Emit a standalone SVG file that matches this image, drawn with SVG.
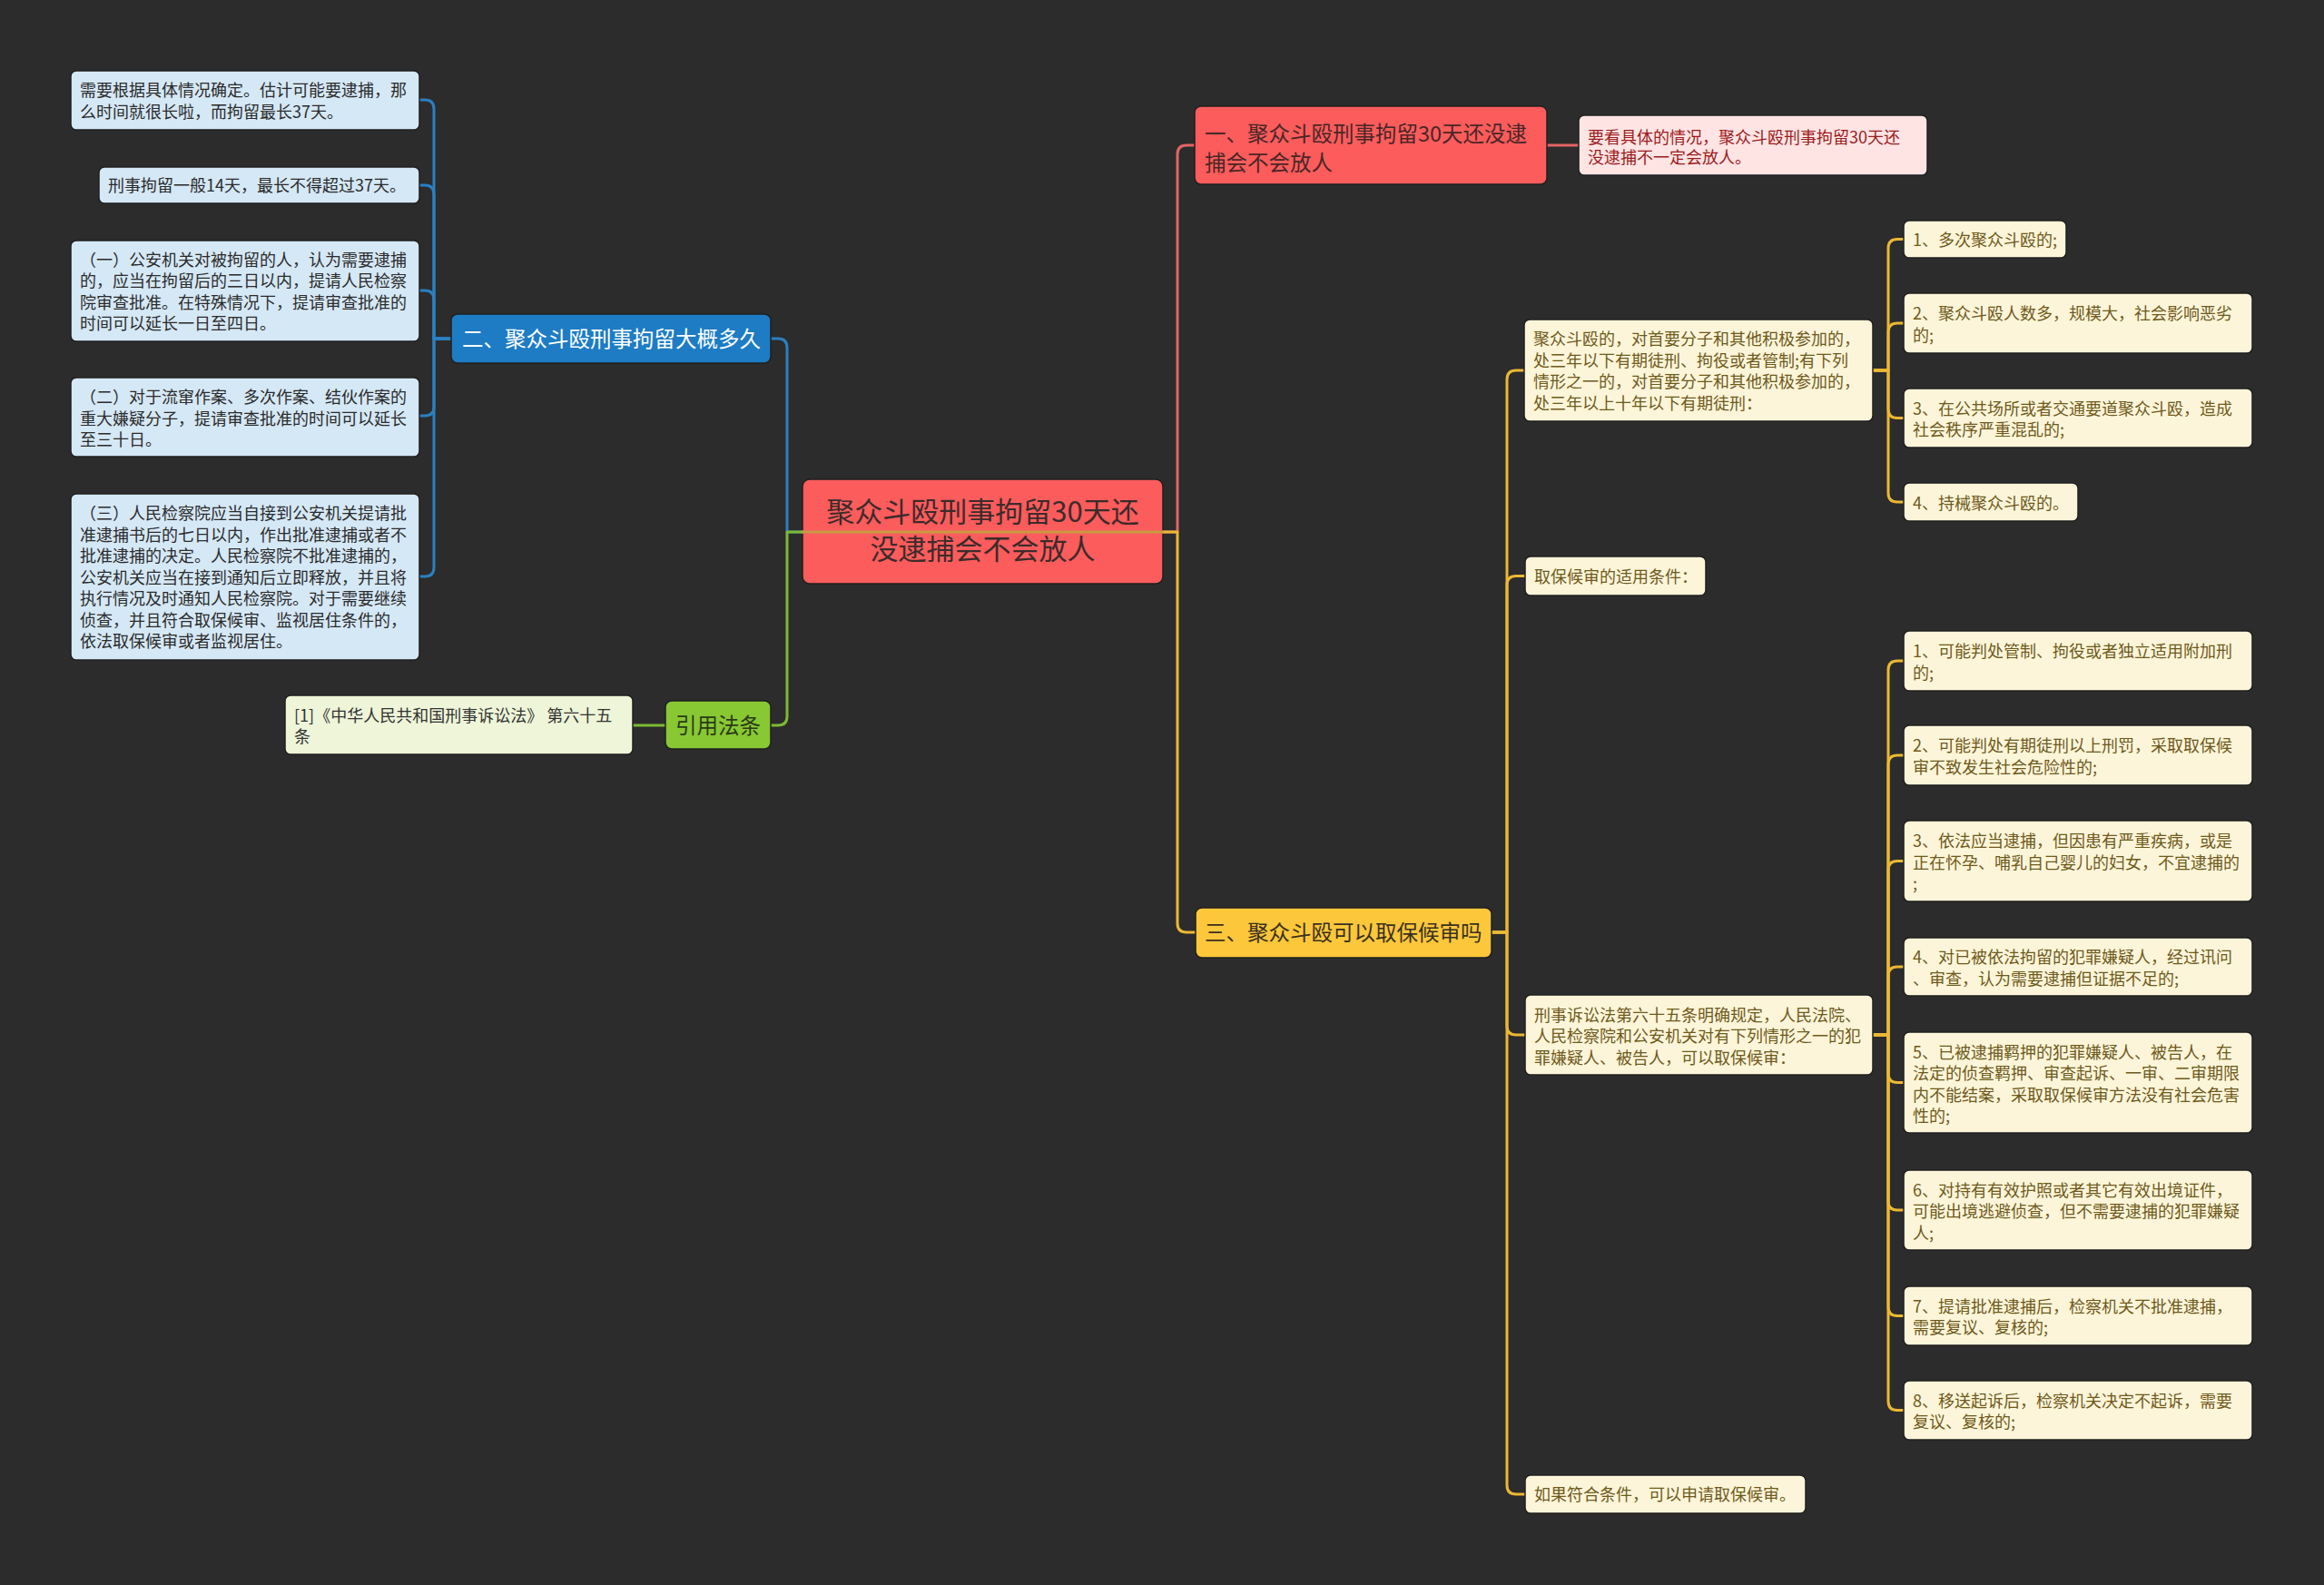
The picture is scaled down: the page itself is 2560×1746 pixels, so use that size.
<svg xmlns="http://www.w3.org/2000/svg" width="2560" height="1746" viewBox="0 0 2560 1746">
<style>
text{font-family:"Noto Sans CJK SC","Noto Sans",sans-serif;}
.t18{font-size:18px;}
.t23{font-size:23.5px;}
.lb rect{fill:#d5e8f6;stroke:#1f1f1f;stroke-width:1.5;}
.lb text{fill:#2b2b2b;}
.cr rect{fill:#fdf5d9;stroke:#1f1f1f;stroke-width:1.5;}
.cr text{fill:#6e5a1c;}
.conn path{fill:none;stroke-width:3;stroke-linecap:round;stroke-linejoin:round;}
.bl{stroke:#2a80c2;}
.gr{stroke:#7cba32;}
.rd{stroke:#e46464;}
.yl{stroke:#ebb834;}
</style>
<rect x="0" y="0" width="2560" height="1746" fill="#2c2c2c"/>

<g id="node-root">
<rect x="884" y="528" width="397" height="115" rx="8" fill="#fc5c5c" stroke="#1f1f1f" stroke-width="1.5"/>
<text x="1082.5" y="575" text-anchor="middle" font-size="31" fill="#3d2b2b">聚众斗殴刑事拘留30天还<tspan x="1082.5" dy="41">没逮捕会不会放人</tspan></text>
</g>

<g id="connectors" class="conn">
<path class="bl" d="M497,373 H478 V120 Q478,110 468,110 H462"/>
<path class="bl" d="M497,373 H478 V214 Q478,204 468,204 H462"/>
<path class="bl" d="M497,373 H478 V330 Q478,320 468,320 H462"/>
<path class="bl" d="M497,373 H478 V448 Q478,458 468,458 H462"/>
<path class="bl" d="M497,373 H478 V625 Q478,635 468,635 H462"/>
<path class="bl" d="M884,586 H867 V383 Q867,373 857,373 H849"/>
<path class="gr" d="M884,586 H867 V789 Q867,799 857,799 H849"/>
<path class="gr" d="M733,799 H697"/>
<path class="rd" d="M1281,586 H1297 V170 Q1297,160 1307,160 H1316"/>
<path class="yl" d="M1281,586 H1297 V1017 Q1297,1027 1307,1027 H1317"/>
<path d="M884,586 H1281" stroke="#c0a43e" stroke-opacity="0.85"/>
<path class="rd" d="M1704,160 H1739"/>
<path class="yl" d="M1643,1027 H1660 V418 Q1660,408 1670,408 H1679"/>
<path class="yl" d="M1643,1027 H1660 V644.5 Q1660,634.5 1670,634.5 H1680"/>
<path class="yl" d="M1643,1027 H1660 V1130 Q1660,1140 1670,1140 H1680"/>
<path class="yl" d="M1643,1027 H1660 V1636 Q1660,1646 1670,1646 H1680"/>
<path class="yl" d="M2063,408 H2080 V273.5 Q2080,263.5 2090,263.5 H2097"/>
<path class="yl" d="M2063,408 H2080 V366 Q2080,356 2090,356 H2097"/>
<path class="yl" d="M2063,408 H2080 V450.5 Q2080,460.5 2090,460.5 H2097"/>
<path class="yl" d="M2063,408 H2080 V543 Q2080,553 2090,553 H2097"/>
<path class="yl" d="M2063,1140 H2080 V738 Q2080,728 2090,728 H2097"/>
<path class="yl" d="M2063,1140 H2080 V842 Q2080,832 2090,832 H2097"/>
<path class="yl" d="M2063,1140 H2080 V958.5 Q2080,948.5 2090,948.5 H2097"/>
<path class="yl" d="M2063,1140 H2080 V1075 Q2080,1065 2090,1065 H2097"/>
<path class="yl" d="M2063,1140 H2080 V1182.5 Q2080,1192.5 2090,1192.5 H2097"/>
<path class="yl" d="M2063,1140 H2080 V1323 Q2080,1333 2090,1333 H2097"/>
<path class="yl" d="M2063,1140 H2080 V1439.5 Q2080,1449.5 2090,1449.5 H2097"/>
<path class="yl" d="M2063,1140 H2080 V1543.5 Q2080,1553.5 2090,1553.5 H2097"/>
</g>

<g id="node-two">
<rect x="497" y="346" width="352" height="54" rx="7" fill="#1d7cc4" stroke="#1f1f1f" stroke-width="1.5"/>
<text x="509" y="382" class="t23" fill="#ffffff">二、聚众斗殴刑事拘留大概多久</text>
</g>
<g id="node-two-a" class="lb">
<rect x="78" y="78" width="384" height="65" rx="6"/>
<text class="t18" x="88" y="106">需要根据具体情况确定。估计可能要逮捕，那</text>
<text class="t18" x="88" y="129.5">么时间就很长啦，而拘留最长37天。</text>
</g>
<g id="node-two-b" class="lb">
<rect x="109" y="184" width="353" height="40" rx="6"/>
<text class="t18" x="119" y="211">刑事拘留一般14天，最长不得超过37天。</text>
</g>
<g id="node-two-c" class="lb">
<rect x="78" y="265" width="384" height="111" rx="6"/>
<text class="t18" x="88" y="292.5">（一）公安机关对被拘留的人，认为需要逮捕</text>
<text class="t18" x="88" y="316">的，应当在拘留后的三日以内，提请人民检察</text>
<text class="t18" x="88" y="339.5">院审查批准。在特殊情况下，提请审查批准的</text>
<text class="t18" x="88" y="363">时间可以延长一日至四日。</text>
</g>
<g id="node-two-d" class="lb">
<rect x="78" y="416" width="384" height="87" rx="6"/>
<text class="t18" x="88" y="444">（二）对于流窜作案、多次作案、结伙作案的</text>
<text class="t18" x="88" y="467.5">重大嫌疑分子，提请审查批准的时间可以延长</text>
<text class="t18" x="88" y="491">至三十日。</text>
</g>
<g id="node-two-e" class="lb">
<rect x="78" y="544" width="384" height="183" rx="6"/>
<text class="t18" x="88" y="572">（三）人民检察院应当自接到公安机关提请批</text>
<text class="t18" x="88" y="595.5">准逮捕书后的七日以内，作出批准逮捕或者不</text>
<text class="t18" x="88" y="619">批准逮捕的决定。人民检察院不批准逮捕的，</text>
<text class="t18" x="88" y="642.5">公安机关应当在接到通知后立即释放，并且将</text>
<text class="t18" x="88" y="666">执行情况及时通知人民检察院。对于需要继续</text>
<text class="t18" x="88" y="689.5">侦查，并且符合取保候审、监视居住条件的，</text>
<text class="t18" x="88" y="713">依法取保候审或者监视居住。</text>
</g>

<g id="node-law">
<rect x="733" y="772" width="116" height="53" rx="7" fill="#88c832" stroke="#1f1f1f" stroke-width="1.5"/>
<text x="791" y="807.5" class="t23" text-anchor="middle" fill="#2a3a1a">引用法条</text>
</g>
<g id="node-law-a">
<rect x="314" y="766" width="383" height="65" rx="6" fill="#eef5d8" stroke="#1f1f1f" stroke-width="1.5"/>
<text class="t18" x="324" y="794.5" fill="#333333">[1]《中华人民共和国刑事诉讼法》 第六十五</text>
<text class="t18" x="324" y="818" fill="#333333">条</text>
</g>

<g id="node-one">
<rect x="1316" y="117" width="388" height="86" rx="7" fill="#fc5c5c" stroke="#1f1f1f" stroke-width="1.5"/>
<text x="1327" y="156" class="t23" fill="#4a2626">一、聚众斗殴刑事拘留30天还没逮</text>
<text x="1327" y="188" class="t23" fill="#4a2626">捕会不会放人</text>
</g>
<g id="node-one-a">
<rect x="1739" y="127" width="384" height="66" rx="6" fill="#ffe4e4" stroke="#1f1f1f" stroke-width="1.5"/>
<text class="t18" x="1749" y="157.5" fill="#9b1b1b">要看具体的情况，聚众斗殴刑事拘留30天还</text>
<text class="t18" x="1749" y="179.5" fill="#9b1b1b">没逮捕不一定会放人。</text>
</g>

<g id="node-three">
<rect x="1317" y="1000" width="326" height="55" rx="7" fill="#fcc73a" stroke="#1f1f1f" stroke-width="1.5"/>
<text x="1327" y="1036" class="t23" fill="#3a3020">三、聚众斗殴可以取保候审吗</text>
</g>
<g id="node-three-a" class="cr">
<rect x="1679" y="352" width="384" height="112" rx="6"/>
<text class="t18" x="1689" y="380">聚众斗殴的，对首要分子和其他积极参加的，</text>
<text class="t18" x="1689" y="403.5">处三年以下有期徒刑、拘役或者管制;有下列</text>
<text class="t18" x="1689" y="427">情形之一的，对首要分子和其他积极参加的，</text>
<text class="t18" x="1689" y="450.5">处三年以上十年以下有期徒刑：</text>
</g>
<g id="node-three-a1" class="cr">
<rect x="2097" y="243" width="179" height="41" rx="6"/>
<text class="t18" x="2107" y="271">1、多次聚众斗殴的;</text>
</g>
<g id="node-three-a2" class="cr">
<rect x="2097" y="323" width="384" height="66" rx="6"/>
<text class="t18" x="2107" y="352">2、聚众斗殴人数多，规模大，社会影响恶劣</text>
<text class="t18" x="2107" y="375.5">的;</text>
</g>
<g id="node-three-a3" class="cr">
<rect x="2097" y="428" width="384" height="65" rx="6"/>
<text class="t18" x="2107" y="456.5">3、在公共场所或者交通要道聚众斗殴，造成</text>
<text class="t18" x="2107" y="480">社会秩序严重混乱的;</text>
</g>
<g id="node-three-a4" class="cr">
<rect x="2097" y="532" width="192" height="42" rx="6"/>
<text class="t18" x="2107" y="560.5">4、持械聚众斗殴的。</text>
</g>
<g id="node-three-b" class="cr">
<rect x="1680" y="613" width="199" height="43" rx="6"/>
<text class="t18" x="1690" y="642">取保候审的适用条件：</text>
</g>
<g id="node-three-c" class="cr">
<rect x="1680" y="1096" width="383" height="88" rx="6"/>
<text class="t18" x="1690" y="1124.5">刑事诉讼法第六十五条明确规定，人民法院、</text>
<text class="t18" x="1690" y="1148">人民检察院和公安机关对有下列情形之一的犯</text>
<text class="t18" x="1690" y="1171.5">罪嫌疑人、被告人，可以取保候审：</text>
</g>
<g id="node-three-c1" class="cr">
<rect x="2097" y="695" width="384" height="66" rx="6"/>
<text class="t18" x="2107" y="724">1、可能判处管制、拘役或者独立适用附加刑</text>
<text class="t18" x="2107" y="747.5">的;</text>
</g>
<g id="node-three-c2" class="cr">
<rect x="2097" y="799" width="384" height="66" rx="6"/>
<text class="t18" x="2107" y="828">2、可能判处有期徒刑以上刑罚，采取取保候</text>
<text class="t18" x="2107" y="851.5">审不致发生社会危险性的;</text>
</g>
<g id="node-three-c3" class="cr">
<rect x="2097" y="904" width="384" height="89" rx="6"/>
<text class="t18" x="2107" y="933">3、依法应当逮捕，但因患有严重疾病，或是</text>
<text class="t18" x="2107" y="956.5">正在怀孕、哺乳自己婴儿的妇女，不宜逮捕的</text>
<text class="t18" x="2107" y="980">;</text>
</g>
<g id="node-three-c4" class="cr">
<rect x="2097" y="1033" width="384" height="64" rx="6"/>
<text class="t18" x="2107" y="1061">4、对已被依法拘留的犯罪嫌疑人，经过讯问</text>
<text class="t18" x="2107" y="1084.5">、审查，认为需要逮捕但证据不足的;</text>
</g>
<g id="node-three-c5" class="cr">
<rect x="2097" y="1137" width="384" height="111" rx="6"/>
<text class="t18" x="2107" y="1165.5">5、已被逮捕羁押的犯罪嫌疑人、被告人，在</text>
<text class="t18" x="2107" y="1189">法定的侦查羁押、审查起诉、一审、二审期限</text>
<text class="t18" x="2107" y="1212.5">内不能结案，采取取保候审方法没有社会危害</text>
<text class="t18" x="2107" y="1236">性的;</text>
</g>
<g id="node-three-c6" class="cr">
<rect x="2097" y="1289" width="384" height="88" rx="6"/>
<text class="t18" x="2107" y="1317.5">6、对持有有效护照或者其它有效出境证件，</text>
<text class="t18" x="2107" y="1341">可能出境逃避侦查，但不需要逮捕的犯罪嫌疑</text>
<text class="t18" x="2107" y="1364.5">人;</text>
</g>
<g id="node-three-c7" class="cr">
<rect x="2097" y="1417" width="384" height="65" rx="6"/>
<text class="t18" x="2107" y="1445.5">7、提请批准逮捕后，检察机关不批准逮捕，</text>
<text class="t18" x="2107" y="1469">需要复议、复核的;</text>
</g>
<g id="node-three-c8" class="cr">
<rect x="2097" y="1521" width="384" height="65" rx="6"/>
<text class="t18" x="2107" y="1549.5">8、移送起诉后，检察机关决定不起诉，需要</text>
<text class="t18" x="2107" y="1573">复议、复核的;</text>
</g>
<g id="node-three-d" class="cr">
<rect x="1680" y="1625" width="309" height="42" rx="6"/>
<text class="t18" x="1690" y="1653">如果符合条件，可以申请取保候审。</text>
</g>
</svg>
